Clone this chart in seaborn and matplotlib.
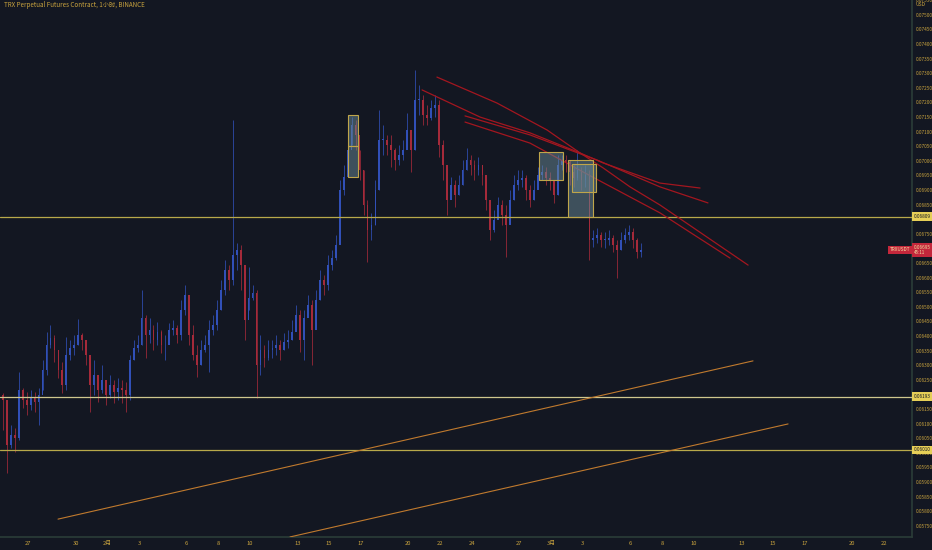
import numpy as np
import pandas as pd
import matplotlib
matplotlib.use('Agg')
import matplotlib.pyplot as plt
import matplotlib.dates as mdates
import matplotlib.transforms as mtransforms
from matplotlib.patches import Rectangle
from matplotlib.ticker import MultipleLocator, FormatStrFormatter
import seaborn as sns

# TRX perpetual, resampled to 6h candles
candle_start = '2023-01-25 10:00'
first_open = 0.06198
close = [
    .06181, .06027, .06061, .06051, .06215, .06181, .06164, .06188, .06174, .06198,
    .06284, .06369, .06393, .06352, .06284, .06232, .06335, .06359, .06369, .06404,
    .06387, .06335, .06232, .06267, .06215, .06249, .06198, .06232, .06208, .06222,
    .06215, .06198, .06318, .06359, .06369, .06462, .06404, .06421, .06387, .06414,
    .06369, .06369, .06421, .06428, .06404, .06489, .06541, .06404, .06335, .06301,
    .06352, .06369, .06421, .06438, .06489, .06558, .06626, .06592, .06678, .06695,
    .06643, .06455, .06530, .06548, .06301, .06352, .06325, .06352, .06359, .06369,
    .06352, .06380, .06387, .06414, .06472, .06387, .06462, .06506, .06421, .06524,
    .06592, .06575, .06643, .06667, .06712, .06900, .06945, .07037, .07123, .07089,
    .06969, .06849, .06763, .06780, .06900, .07072, .07072, .07054, .07037, .07003,
    .07020, .07037, .07106, .07037, .07209, .07209, .07157, .07147, .07181, .07191,
    .07054, .06986, .06866, .06917, .06883, .06917, .06969, .07003, .06986, .06969,
    .06986, .06952, .06866, .06763, .06798, .06849, .06815, .06780, .06866, .06917,
    .06935, .06941, .06900, .06866, .06900, .06952, .06962, .06941, .06935, .06883,
    .06986, .07003, .06996, .06962, .06941, .06969, .06935, .06952, .06729, .06736,
    .06746, .06729, .06729, .06736, .06712, .06695, .06729, .06746, .06756, .06729,
    .06688, .06695]
high = [
    .06205, .06078, .06095, .06085, .06277, .06222, .06208, .06215, .06208, .06222,
    .06318, .06414, .06438, .06404, .06335, .06311, .06397, .06387, .06404, .06458,
    .06410, .06387, .06318, .06318, .06267, .06301, .06249, .06267, .06249, .06256,
    .06249, .06243, .06335, .06387, .06404, .06558, .06472, .06462, .06438, .06448,
    .06421, .06404, .06445, .06455, .06438, .06524, .06575, .06524, .06438, .06369,
    .06387, .06404, .06455, .06472, .06524, .06592, .06661, .06643, .07140, .06719,
    .06712, .06558, .06637, .06575, .06558, .06404, .06369, .06387, .06387, .06404,
    .06387, .06410, .06421, .06455, .06506, .06489, .06489, .06541, .06524, .06558,
    .06626, .06609, .06678, .06695, .06746, .06935, .06986, .07072, .07150, .07140,
    .07037, .06969, .06866, .06821, .06935, .07174, .07123, .07089, .07089, .07044,
    .07054, .07072, .07164, .07106, .07311, .07260, .07226, .07191, .07209, .07226,
    .07209, .07072, .06945, .06945, .06935, .06952, .07003, .07044, .07020, .07003,
    .07013, .06986, .06952, .06866, .06832, .06876, .06866, .06849, .06900, .06952,
    .06969, .06969, .06952, .06917, .06935, .06979, .06986, .06979, .06962, .06935,
    .07020, .07020, .07020, .07003, .06986, .07037, .06979, .06986, .06969, .06763,
    .06770, .06756, .06756, .06763, .06746, .06729, .06756, .06770, .06780, .06770,
    .06736, .06719]
low = [
    .06078, .05931, .06017, .06003, .06044, .06154, .06130, .06147, .06140, .06095,
    .06215, .06267, .06359, .06311, .06256, .06205, .06215, .06318, .06335, .06369,
    .06352, .06301, .06140, .06198, .06174, .06205, .06164, .06188, .06171, .06181,
    .06171, .06140, .06181, .06318, .06345, .06369, .06325, .06376, .06352, .06369,
    .06342, .06318, .06387, .06404, .06376, .06387, .06472, .06369, .06318, .06260,
    .06301, .06345, .06277, .06404, .06421, .06489, .06541, .06558, .06575, .06626,
    .06558, .06387, .06489, .06524, .06188, .06267, .06294, .06318, .06325, .06335,
    .06318, .06352, .06359, .06387, .06421, .06345, .06318, .06472, .06301, .06455,
    .06524, .06541, .06558, .06626, .06661, .06746, .06883, .06945, .07054, .07037,
    .06935, .06815, .06654, .06729, .06780, .06900, .07020, .07020, .06979, .06969,
    .06986, .07003, .07054, .06962, .07037, .07157, .07123, .07123, .07140, .07150,
    .07013, .06935, .06815, .06883, .06842, .06883, .06917, .06969, .06952, .06935,
    .06952, .06917, .06832, .06729, .06756, .06815, .06780, .06671, .06815, .06866,
    .06900, .06911, .06866, .06842, .06866, .06917, .06935, .06917, .06900, .06856,
    .06883, .06969, .06962, .06917, .06911, .06935, .06900, .06911, .06661, .06705,
    .06719, .06705, .06702, .06712, .06688, .06599, .06695, .06719, .06729, .06702,
    .06667, .06671]

# horizontal levels
levels = [0.06809, 0.06193, 0.06010]
level_labels = ['0.06809', '0.06193', '0.06010']
level_colors = ['#b8a94a', '#cfc78e', '#b8a94a']

# channel lines (orange)
channel_1 = (['2023-01-28 21:25', '2023-03-13 17:45'], [0.05773, 0.06315])
channel_2 = (['2023-02-12 12:45', '2023-03-15 22:50'], [0.05712, 0.06099])

# red curves drawn from the top
curve_a = (['2023-02-21 19:10', '2023-02-25 14:10', '2023-02-28 17:45', '2023-03-02 20:00',
            '2023-03-04 06:45', '2023-03-05 23:30', '2023-03-07 20:50', '2023-03-13 10:20'],
           [0.07287, 0.07198, 0.07106, 0.07027, 0.06976, 0.06911, 0.06849, 0.06643])
curve_b = (['2023-02-20 20:40', '2023-02-24 12:30', '2023-02-27 16:00', '2023-03-02 20:00',
            '2023-03-04 06:45', '2023-03-07 20:50', '2023-03-10 09:35'],
           [0.07243, 0.07150, 0.07096, 0.07027, 0.06993, 0.06924, 0.06907])
curve_c = (['2023-02-23 13:40', '2023-02-27 16:00', '2023-03-02 04:50', '2023-03-03 21:35',
            '2023-03-07 20:50', '2023-03-10 21:35'],
           [0.07154, 0.07089, 0.07037, 0.07003, 0.06911, 0.06856])
curve_d = (['2023-02-23 13:40', '2023-02-27 16:00', '2023-03-03 00:30', '2023-03-07 20:50',
            '2023-03-12 07:00'],
           [0.07133, 0.07061, 0.06962, 0.06822, 0.06667])

# boxes: (start, end, bottom, top)
boxes = [
    ('2023-02-16 04:00', '2023-02-16 20:00', 0.07050, 0.07157),
    ('2023-02-16 04:00', '2023-02-16 20:00', 0.06946, 0.07050),
    ('2023-02-28 05:45', '2023-03-01 18:30', 0.06935, 0.07029),
    ('2023-03-02 02:10', '2023-03-03 16:00', 0.06809, 0.07003),
    ('2023-03-02 07:10', '2023-03-03 20:10', 0.06892, 0.06988),
]

x_tick_dates = ['2023-01-27', '2023-01-30', '2023-02-01', '2023-02-03', '2023-02-06', '2023-02-08',
                '2023-02-10', '2023-02-13', '2023-02-15', '2023-02-17', '2023-02-20', '2023-02-22',
                '2023-02-24', '2023-02-27', '2023-03-01', '2023-03-03', '2023-03-06', '2023-03-08',
                '2023-03-10', '2023-03-13', '2023-03-15', '2023-03-17', '2023-03-20', '2023-03-22']
x_tick_labels = ['27', '30', '2月', '3', '6', '8', '10', '13', '15', '17', '20', '22',
                 '24', '27', '3月', '3', '6', '8', '10', '13', '15', '17', '20', '22']

title = 'TRX Perpetual Futures Contract, 1小时, BINANCE'
last_price_label = '0.06695\n45:11'

BG = '#131722'
TXT = '#c9a33e'
sns.set_theme(style='dark', rc={'axes.facecolor': BG, 'figure.facecolor': BG})
plt.rcParams['font.family'] = ['Noto Sans CJK SC', 'DejaVu Sans']

fig = plt.figure(figsize=(9.32, 5.5), dpi=100)
ax = fig.add_axes([0, 13 / 550, 912 / 932, 537 / 550])
ax.set_facecolor(BG)

# candles
t = mdates.date2num(pd.date_range(candle_start, periods=len(close), freq='6h'))
c = np.array(close)
o = np.array([first_open] + close[:-1])
up = c >= o
cols = np.where(up, '#3150b8', '#a52a3a')
ax.vlines(t, low, high, colors=cols, linewidth=0.55, zorder=2)
ax.bar(t, np.maximum(np.abs(c - o), 0.00002), bottom=np.minimum(o, c), width=0.11,
       color=cols, linewidth=0, zorder=3)

trans = mtransforms.blended_transform_factory(ax.transAxes, ax.transData)

# levels
for lv, lab, col in zip(levels, level_labels, level_colors):
    ax.axhline(lv, color=col, lw=0.9, zorder=4)
    ax.text(1.002, lv, lab, transform=trans, ha='left', va='center', fontsize=3.4,
            color=BG, clip_on=False, zorder=10,
            bbox=dict(boxstyle='square,pad=0.35', fc='#e6cf57', ec='none'))

# channel lines
for xs, ys in (channel_1, channel_2):
    sns.lineplot(x=pd.to_datetime(xs), y=ys, ax=ax, color='#c07a2e', lw=0.8, zorder=4)

# red curves
for xs, ys in (curve_a, curve_b, curve_c, curve_d):
    sns.lineplot(x=pd.to_datetime(xs), y=ys, ax=ax, color='#a3161f', lw=0.9, zorder=5, sort=False)

# boxes
for s, e, b, tp in boxes:
    x0 = mdates.date2num(pd.Timestamp(s))
    x1 = mdates.date2num(pd.Timestamp(e))
    ax.add_patch(Rectangle((x0, b), x1 - x0, tp - b, fc='#6a8a96', alpha=0.5, ec='none', zorder=6))
    ax.add_patch(Rectangle((x0, b), x1 - x0, tp - b, fc='none', ec='#bfa64a', lw=0.8, zorder=7))

# last price tags
ax.text(1.002, close[-1], last_price_label, transform=trans, ha='left', va='center', fontsize=3.3,
        color='#f3e3a6', clip_on=False, zorder=10, linespacing=1.1,
        bbox=dict(boxstyle='square,pad=0.35', fc='#c4273b', ec='none'))
ax.text(0.998, close[-1], 'TRXUSDT', transform=trans, ha='right', va='center', fontsize=3.3,
        color='#f3e3a6', zorder=10, bbox=dict(boxstyle='square,pad=0.35', fc='#c4273b', ec='none'))

# axes styling
ax.set_xlim(pd.Timestamp('2023-01-25 05:35'), pd.Timestamp('2023-03-23 18:30'))
ax.set_ylim(0.057118, 0.07551)
ax.set_xticks(mdates.date2num(pd.to_datetime(x_tick_dates)))
ax.set_xticklabels(x_tick_labels)
ax.yaxis.tick_right()
ax.yaxis.set_major_locator(MultipleLocator(0.0005))
ax.yaxis.set_major_formatter(FormatStrFormatter('%.5f'))
ax.tick_params(axis='y', labelsize=3.4, colors=TXT, length=0, pad=2.5)
ax.tick_params(axis='x', labelsize=4.2, colors=TXT, length=0, pad=3)
ax.set_xlabel('')
ax.set_ylabel('')
ax.grid(False)
for side in ('top', 'left'):
    ax.spines[side].set_visible(False)
for side in ('right', 'bottom'):
    ax.spines[side].set_color('#2b3d38')
    ax.spines[side].set_linewidth(1.2)

ax.text(0.004, 1 - 5 / 537, title, transform=ax.transAxes, ha='left', va='center',
        fontsize=4.5, color=TXT)
fig.text(916 / 932, 1 - 5 / 550, 'USD', ha='left', va='center', fontsize=3.6, color=TXT)

fig.savefig('out.png', dpi=100, facecolor=BG)
